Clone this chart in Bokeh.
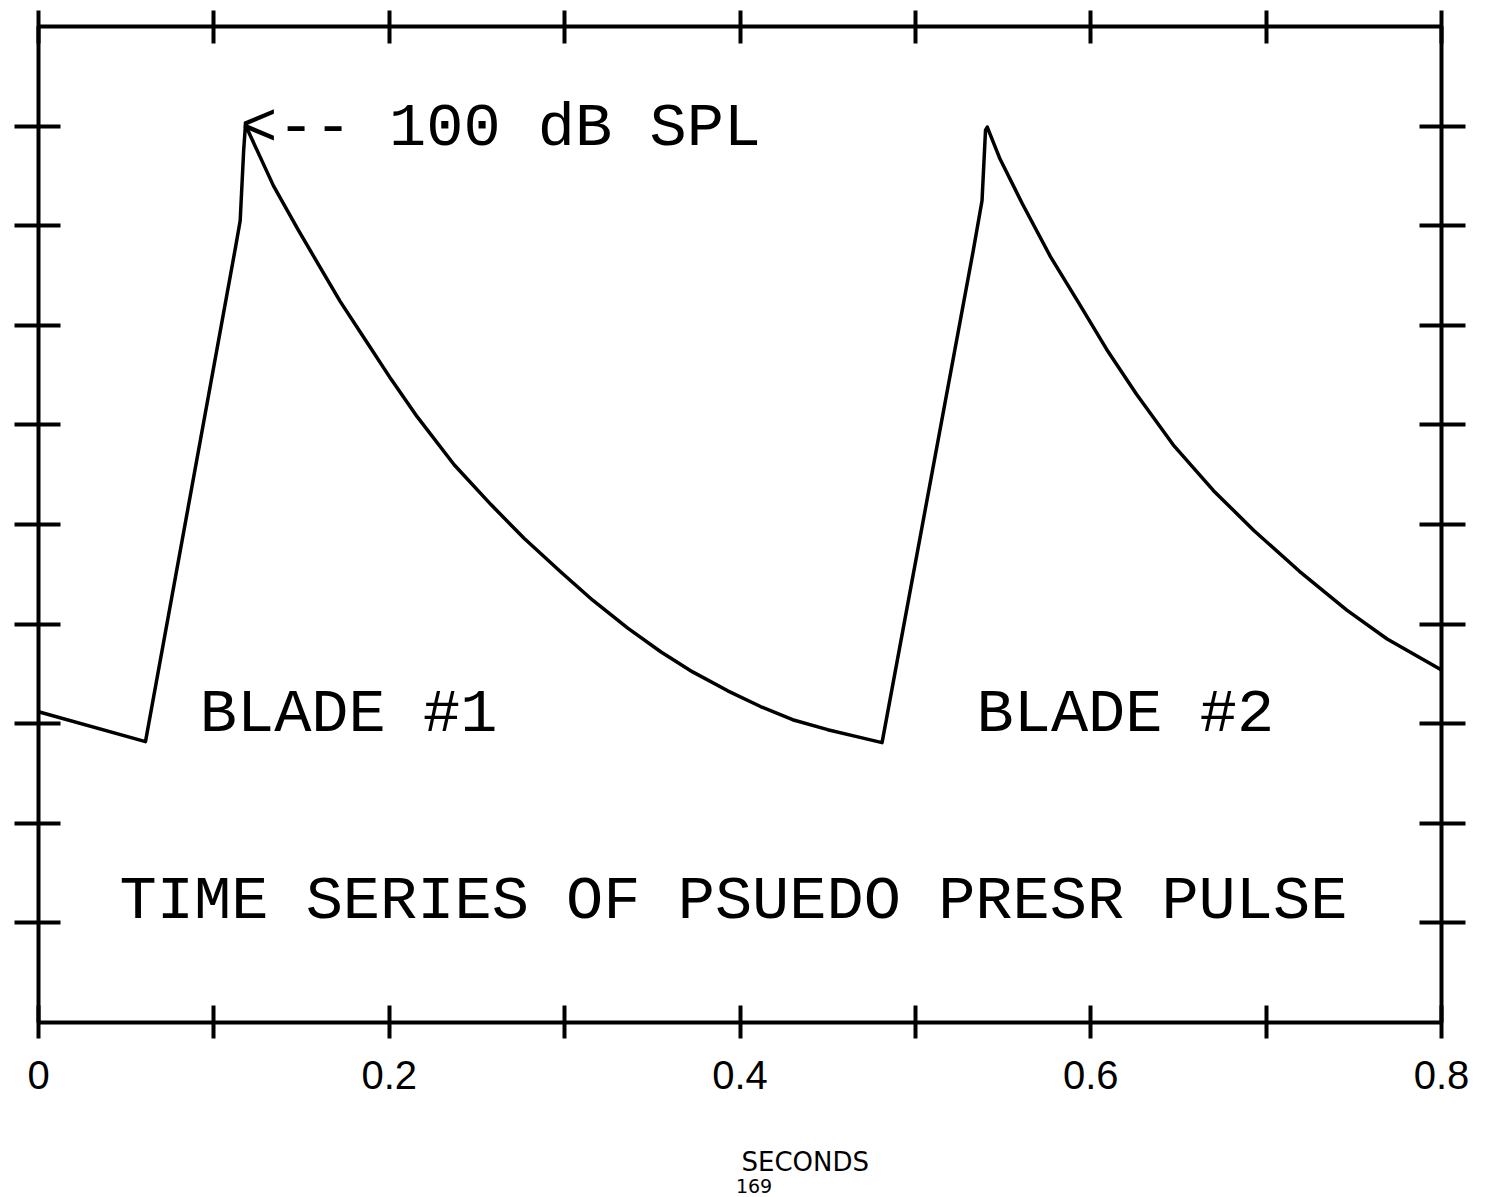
from bokeh.plotting import figure
from bokeh.layouts import column
from bokeh.models import Range1d, LinearAxis, FixedTicker, CustomJSTickFormatter, Label
from bokeh.embed import file_html
from bokeh.resources import INLINE

# ---- data ----
time_s = [0.000, 0.061, 0.112, 0.115, 0.117, 0.118, 0.134, 0.148, 0.159, 0.172,
          0.188, 0.201, 0.216, 0.237, 0.258, 0.277, 0.298, 0.316, 0.336, 0.355,
          0.373, 0.393, 0.412, 0.430, 0.450, 0.469, 0.481, 0.533, 0.538, 0.540,
          0.541, 0.548, 0.561, 0.577, 0.594, 0.609, 0.626, 0.647, 0.670, 0.693,
          0.719, 0.746, 0.769, 0.800]
pressure = [3.12, 2.82, 7.75, 8.05, 8.76, 9.01, 8.40, 7.96, 7.63, 7.24,
            6.81, 6.46, 6.08, 5.60, 5.20, 4.86, 4.52, 4.24, 3.96, 3.72,
            3.52, 3.33, 3.17, 3.04, 2.94, 2.86, 2.81, 7.75, 8.25, 8.96,
            8.99, 8.68, 8.22, 7.69, 7.20, 6.76, 6.31, 5.80, 5.34, 4.94,
            4.53, 4.14, 3.85, 3.54]
x_major_ticks = [0.0, 0.2, 0.4, 0.6, 0.8]
x_minor_ticks = [0.1, 0.3, 0.5, 0.7]
y_ticks = [1, 2, 3, 4, 5, 6, 7, 8, 9]
peak_label = "<-- 100 dB SPL"
blade_labels = ["BLADE #1", "BLADE #2"]
title_text = "TIME SERIES OF PSUEDO PRESR PULSE"
x_axis_label = "SECONDS"
page_number = "169"

p = figure(width=1492, height=1140, x_range=Range1d(0, 0.8), y_range=Range1d(0, 10),
           output_backend="svg", toolbar_location=None,
           min_border_left=38, min_border_right=51, min_border_top=26, min_border_bottom=118)
p.outline_line_color = "black"
p.outline_line_width = 4
p.outline_line_alpha = 1.0
p.xgrid.visible = False
p.ygrid.visible = False
p.background_fill_color = "white"
p.border_fill_color = "white"

empty_fmt = CustomJSTickFormatter(code="return '';")


def style_x(ax, show_labels):
    ax.ticker = FixedTicker(ticks=x_major_ticks, minor_ticks=x_minor_ticks)
    ax.axis_line_color = None
    ax.major_tick_in = 17
    ax.major_tick_out = 16
    ax.minor_tick_in = 17
    ax.minor_tick_out = 16
    ax.major_tick_line_width = 4
    ax.minor_tick_line_width = 4
    ax.major_tick_line_color = "black"
    ax.minor_tick_line_color = "black"
    if show_labels:
        ax.formatter = CustomJSTickFormatter(code="return tick == 0 ? '0' : tick.toFixed(1);")
        ax.major_label_text_font = "Liberation Sans"
        ax.major_label_text_font_size = "40px"
        ax.major_label_text_color = "black"
        ax.major_label_standoff = 22
    else:
        ax.formatter = empty_fmt
        ax.major_label_text_font_size = "0px"
        ax.major_label_standoff = 0


def style_y(ax):
    ax.ticker = FixedTicker(ticks=y_ticks, minor_ticks=[])
    ax.axis_line_color = None
    ax.major_tick_in = 22
    ax.major_tick_out = 24
    ax.major_tick_line_width = 4
    ax.major_tick_line_color = "black"
    ax.minor_tick_line_color = None
    ax.formatter = empty_fmt
    ax.major_label_text_font_size = "0px"
    ax.major_label_standoff = 0


style_x(p.xaxis[0], True)
style_y(p.yaxis[0])

top_ax = LinearAxis()
style_x(top_ax, False)
p.add_layout(top_ax, "above")

right_ax = LinearAxis()
style_y(right_ax)
p.add_layout(right_ax, "right")

p.line(time_s, pressure, line_color="black", line_width=3.5, line_join="round")

mono = "Liberation Mono"
p.add_layout(Label(x=0.115, y=8.98, text=peak_label, text_align="left",
                   text_baseline="alphabetic", text_font=mono,
                   text_font_size="62px", text_color="black"))
p.add_layout(Label(x=0.1768, y=3.095, text=blade_labels[0], text_align="center",
                   text_baseline="alphabetic", text_font=mono,
                   text_font_size="62px", text_color="black"))
p.add_layout(Label(x=0.6197, y=3.095, text=blade_labels[1], text_align="center",
                   text_baseline="alphabetic", text_font=mono,
                   text_font_size="62px", text_color="black"))
p.add_layout(Label(x=0.3963, y=1.219, text=title_text, text_align="center",
                   text_baseline="alphabetic", text_font=mono,
                   text_font_size="62px", text_color="black"))

# strip below the plot carrying the axis caption and the page number
q = figure(width=1492, height=57, x_range=Range1d(0, 0.8), y_range=Range1d(0, 1),
           output_backend="svg", toolbar_location=None,
           x_axis_type=None, y_axis_type=None,
           min_border_left=38, min_border_right=51, min_border_top=0, min_border_bottom=0)
q.outline_line_color = None
q.background_fill_color = "white"
q.border_fill_color = "white"
q.add_layout(Label(x=0.4372, y=0.63, text=x_axis_label, text_align="center",
                   text_baseline="middle", text_font="DejaVu Sans",
                   text_font_size="26px", text_color="black"))
q.add_layout(Label(x=0.408, y=0.20, text=page_number, text_align="center",
                   text_baseline="middle", text_font="DejaVu Sans",
                   text_font_size="19px", text_color="black"))

layout = column(p, q, spacing=0)
open("out.html", "w").write(file_html(layout, INLINE))
